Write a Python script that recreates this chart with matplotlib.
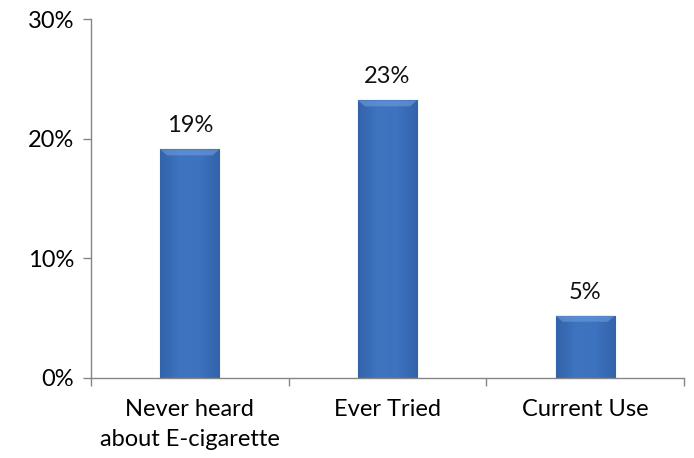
import numpy as np
import matplotlib
matplotlib.use("Agg")
import matplotlib.pyplot as plt
from matplotlib.colors import LinearSegmentedColormap

categories = ["Never heard\nabout E-cigarette", "Ever Tried", "Current Use"]
values = [19.1, 23.2, 5.2]
labels = ["19%", "23%", "5%"]
yticks = [0, 10, 20, 30]

plt.rcParams['font.family'] = ['Lato', 'DejaVu Sans']

fig = plt.figure(figsize=(6.94, 4.58), dpi=100)
ax = fig.add_axes([0.131, 0.1747, 0.8546, 0.7838])

x = np.arange(len(categories))
bars = ax.bar(x, values, width=0.3, color="#3A6FBE", edgecolor="#2D5C9E", linewidth=0.8, zorder=2)

# soft shading on the bars
cmap = LinearSegmentedColormap.from_list("bevel", ["#3363AA", "#3E74C0", "#3D72BF", "#3363AA"])
grad = np.linspace(0, 1, 64).reshape(1, -1)
for b in bars:
    x0, w, h = b.get_x(), b.get_width(), b.get_height()
    im = ax.imshow(grad, cmap=cmap, aspect="auto", extent=[x0, x0 + w, 0, h], zorder=2.5)
    im.set_clip_path(b)
    # lighter top bevel
    ax.fill([x0, x0 + w, x0 + w * 0.88, x0 + w * 0.12], [h, h, h - 0.5, h - 0.5],
            color="#6E9BDA", alpha=0.6, zorder=2.6, lw=0)

for xi, v, lab in zip(x, values, labels):
    ax.text(xi, v + 1.42, lab, ha="center", va="baseline", fontsize=17, color="#111111")

ax.set_xlim(-0.5, 2.5)
ax.set_ylim(0, 30)
ax.set_yticks(yticks)
ax.set_yticklabels([f"{t}%" for t in yticks], fontsize=17)
ax.set_xticks(x)
ax.set_xticklabels(categories, fontsize=17, linespacing=1.55)
ax.set_xticks([-0.5, 0.5, 1.5, 2.5], minor=True)
ax.tick_params(axis="x", which="major", length=0, pad=15)
ax.tick_params(axis="x", which="minor", length=6, color="#868686", width=1)
ax.tick_params(axis="y", length=6, color="#868686", width=1, pad=6)

for s in ["top", "right"]:
    ax.spines[s].set_visible(False)
for s in ["left", "bottom"]:
    ax.spines[s].set_color("#868686")
    ax.spines[s].set_linewidth(1)

fig.savefig("out.png", dpi=100)
